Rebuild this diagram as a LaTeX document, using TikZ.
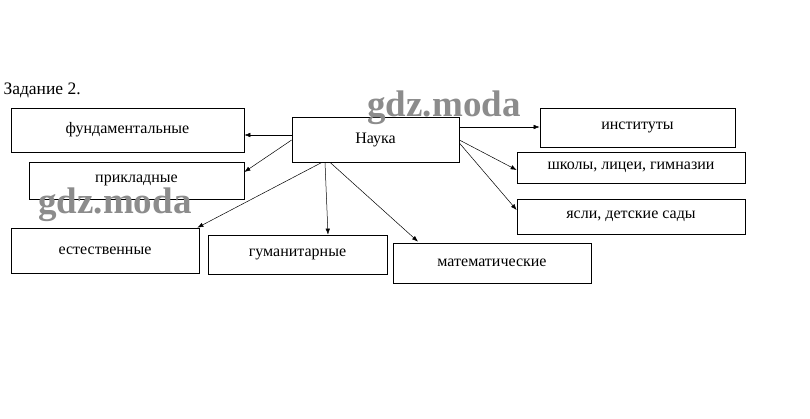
\documentclass[tikz,border=0pt]{standalone}
\usepackage{fontspec}
\setmainfont{Liberation Serif}
\usetikzlibrary{arrows.meta,calc}
\tikzset{
  box/.style={draw=black, line width=0.7pt, inner sep=0pt, font=\fontsize{16}{18}\selectfont},
  conn/.style={line width=0.5pt, -{Latex[length=6pt,width=4.5pt]}},
  wm/.style={font=\bfseries\fontsize{37}{40}\selectfont, text=black!45}
}
\begin{document}
\begin{tikzpicture}[x=1pt,y=-1pt]
\useasboundingbox (0,0) rectangle (810,419);
\node[anchor=west, font=\fontsize{17.5}{20}\selectfont] (title) at (0,90) {Задание 2.};
\node[box, minimum width=233, minimum height=44] (fund) at (127.5,130) {фундаментальные};
\node[box, minimum width=215, minimum height=37] (prikl) at (136.5,180.5) {прикладные};
\node[box, minimum width=188, minimum height=45] (estes) at (105,250.5) {естественные};
\node[box, minimum width=179, minimum height=39] (gum) at (297.5,254.5) {гуманитарные};
\node[box, minimum width=198, minimum height=40] (mat) at (492,263) {математические};
\node[box, minimum width=167, minimum height=45] (nauka) at (375.5,139.5) {Наука};
\node[box, minimum width=195, minimum height=39] (inst) at (637.5,127.5) {институты};
\node[box, minimum width=228, minimum height=31] (shk) at (631,167.5) {школы, лицеи, гимназии};
\node[box, minimum width=228, minimum height=35] (yasli) at (631,216.5) {ясли, детские сады};
\draw[conn] ($(nauka.west)+(0,-4.5)$) -- ($(fund.east)+(0,5)$);
\draw[conn] ($(nauka.west)+(0,0.5)$) -- ($(prikl.east)+(0,-8.5)$);
\draw[conn] ($(nauka.south)+(-53.5,0)$) -- ($(estes.north east)+(-2,0)$);
\draw[conn] ($(nauka.south)+(-50.5,0)$) -- ($(gum.north)+(30.5,0)$);
\draw[conn] ($(nauka.south)+(-45.5,0)$) -- ($(mat.north)+(-74,-1)$);
\draw[conn] ($(nauka.east)+(0,-12.5)$) -- ($(inst.west)+(0,-0.5)$);
\draw[conn] ($(nauka.east)+(0,0.5)$) -- ($(shk.west)+(0,2.5)$);
\draw[conn] ($(nauka.east)+(0,3.5)$) -- ($(yasli.west)+(0,-6.5)$);
\node[wm] (wm1) at (444,108) {gdz.moda};
\node[wm] (wm2) at (115,205) {gdz.moda};
\end{tikzpicture}
\end{document}
